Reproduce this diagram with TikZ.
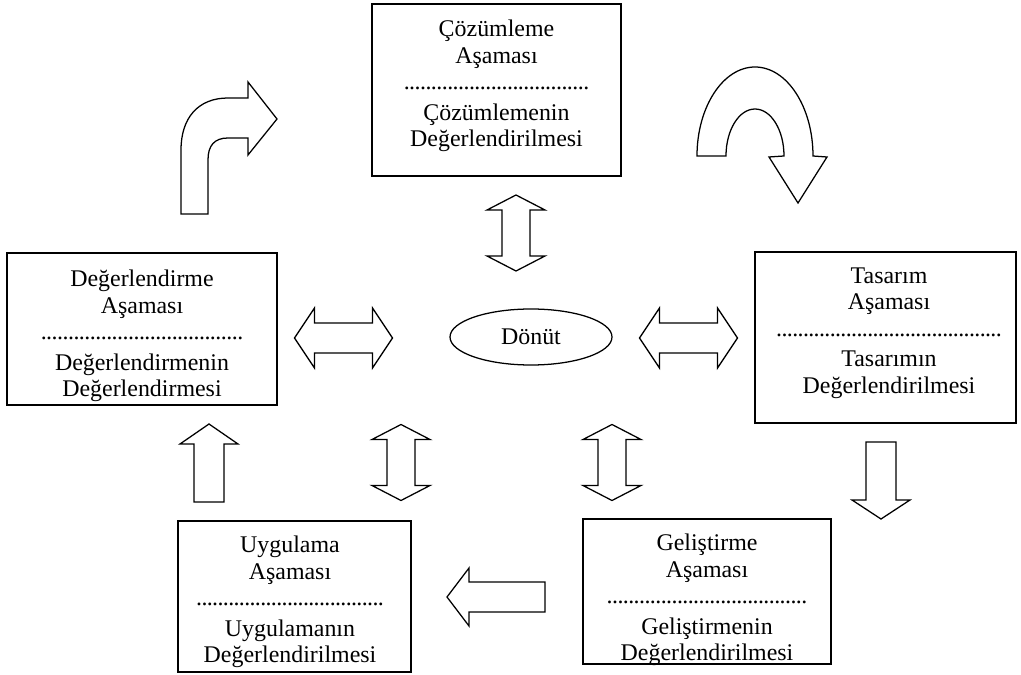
\documentclass[tikz,border=0pt]{standalone}
\usepackage{fontspec}
\setmainfont{Liberation Serif}
\usetikzlibrary{shapes.geometric}

\newcommand{\dotrule}[1]{\makebox[#1]{\xleaders\hbox to 3.8pt{\hss.\hss}\hfill}}

\begin{document}
\begin{tikzpicture}[
    x=0.025cm, y=-0.025cm,
    stage/.style={draw, line width=1.2pt, inner sep=0pt},
    txt/.style={align=center, inner sep=0pt, font=\fontsize{17}{18.85}\selectfont},
    blk/.style={draw, line width=0.9pt, fill=white, line join=miter},
    pics/vdbl/.style={code={
      \draw[blk] (-14,-23) -- (-29,-23) -- (0,-38) -- (29,-23) -- (14,-23) -- (14,23)
                 -- (29,23) -- (0,38) -- (-29,23) -- (-14,23) -- cycle;}},
    pics/hdbl/.style={code={
      \draw[blk] (-29,-15) -- (-29,-30) -- (-49,0) -- (-29,30) -- (-29,15) -- (29,15)
                 -- (29,30) -- (49,0) -- (29,-30) -- (29,-15) -- cycle;}},
]
\useasboundingbox (0,0) rectangle (1021,675);

% stage boxes
\node[stage, minimum width={249*0.025cm}, minimum height={172*0.025cm}] (coz) at (496.5,90) {};
\node[stage, minimum width={270*0.025cm}, minimum height={152*0.025cm}] (deg) at (142,329) {};
\node[stage, minimum width={261*0.025cm}, minimum height={171*0.025cm}] (tas) at (885.5,337.5) {};
\node[stage, minimum width={233*0.025cm}, minimum height={151*0.025cm}] (uyg) at (294.5,596.5) {};
\node[stage, minimum width={248*0.025cm}, minimum height={145*0.025cm}] (gel) at (707,591.5) {};

\node[txt] (cozT) at (496.5,86) {Çözümleme\\Aşaması\\\dotrule{131.6pt}\\[3pt]Çözümlemenin\\Değerlendirilmesi};
\node[txt] (degT) at (142,336) {Değerlendirme\\Aşaması\\\dotrule{143.7pt}\\[3pt]Değerlendirmenin\\Değerlendirmesi};
\node[txt] (tasT) at (889,333) {Tasarım\\Aşaması\\\dotrule{160pt}\\[3pt]Tasarımın\\Değerlendirilmesi};
\node[txt] (uygT) at (290,602) {Uygulama\\Aşaması\\\dotrule{133pt}\\[3pt]Uygulamanın\\Değerlendirilmesi};
\node[txt] (gelT) at (707,600) {Geliştirme\\Aşaması\\\dotrule{142.3pt}\\[3pt]Geliştirmenin\\Değerlendirilmesi};

% feedback
\node[ellipse, draw, line width=0.9pt, inner sep=0pt, minimum width={162*0.025cm},
      minimum height={56*0.025cm}, font=\fontsize{17}{18.85}\selectfont] (donut) at (531,337) {Dönüt};

% two-way arrows
\pic at (516,233) {vdbl};
\pic at (401,462.5) {vdbl};
\pic at (612,462.5) {vdbl};
\pic at (343.5,338) {hdbl};
\pic at (688.5,338) {hdbl};

% one-way arrows
\draw[blk, shift={(209,463)}] (-15,39) -- (-15,-19) -- (-29,-19) -- (0,-39) -- (29,-19) -- (15,-19) -- (15,39) -- cycle;
\draw[blk, shift={(881,480.5)}] (-15,-38.5) -- (-15,19.5) -- (-29,19.5) -- (0,38.5) -- (29,19.5) -- (15,19.5) -- (15,-38.5) -- cycle;
\draw[blk, shift={(496,597)}] (49,-15) -- (-27,-15) -- (-27,-29) -- (-49,0) -- (-27,29) -- (-27,15) -- (49,15) -- cycle;

% curved arrows
\draw[blk] (181,214) -- (181,150) .. controls (181,118) and (198,98) .. (228,98) -- (248,98)
  -- (248,82) -- (277,119) -- (248,155) -- (248,138) -- (228,138)
  .. controls (214,138) and (208,146) .. (208,160) -- (208,214) -- cycle;
\draw[blk] (697,156) .. controls (697,107) and (723,67) .. (755,67)
  .. controls (787,67) and (813,107) .. (813,156) -- (827,157) -- (798,203) -- (769,157)
  -- (784,156) .. controls (784,130) and (771,109) .. (755,109)
  .. controls (739,109) and (726,130) .. (726,156) -- cycle;
\end{tikzpicture}
\end{document}
